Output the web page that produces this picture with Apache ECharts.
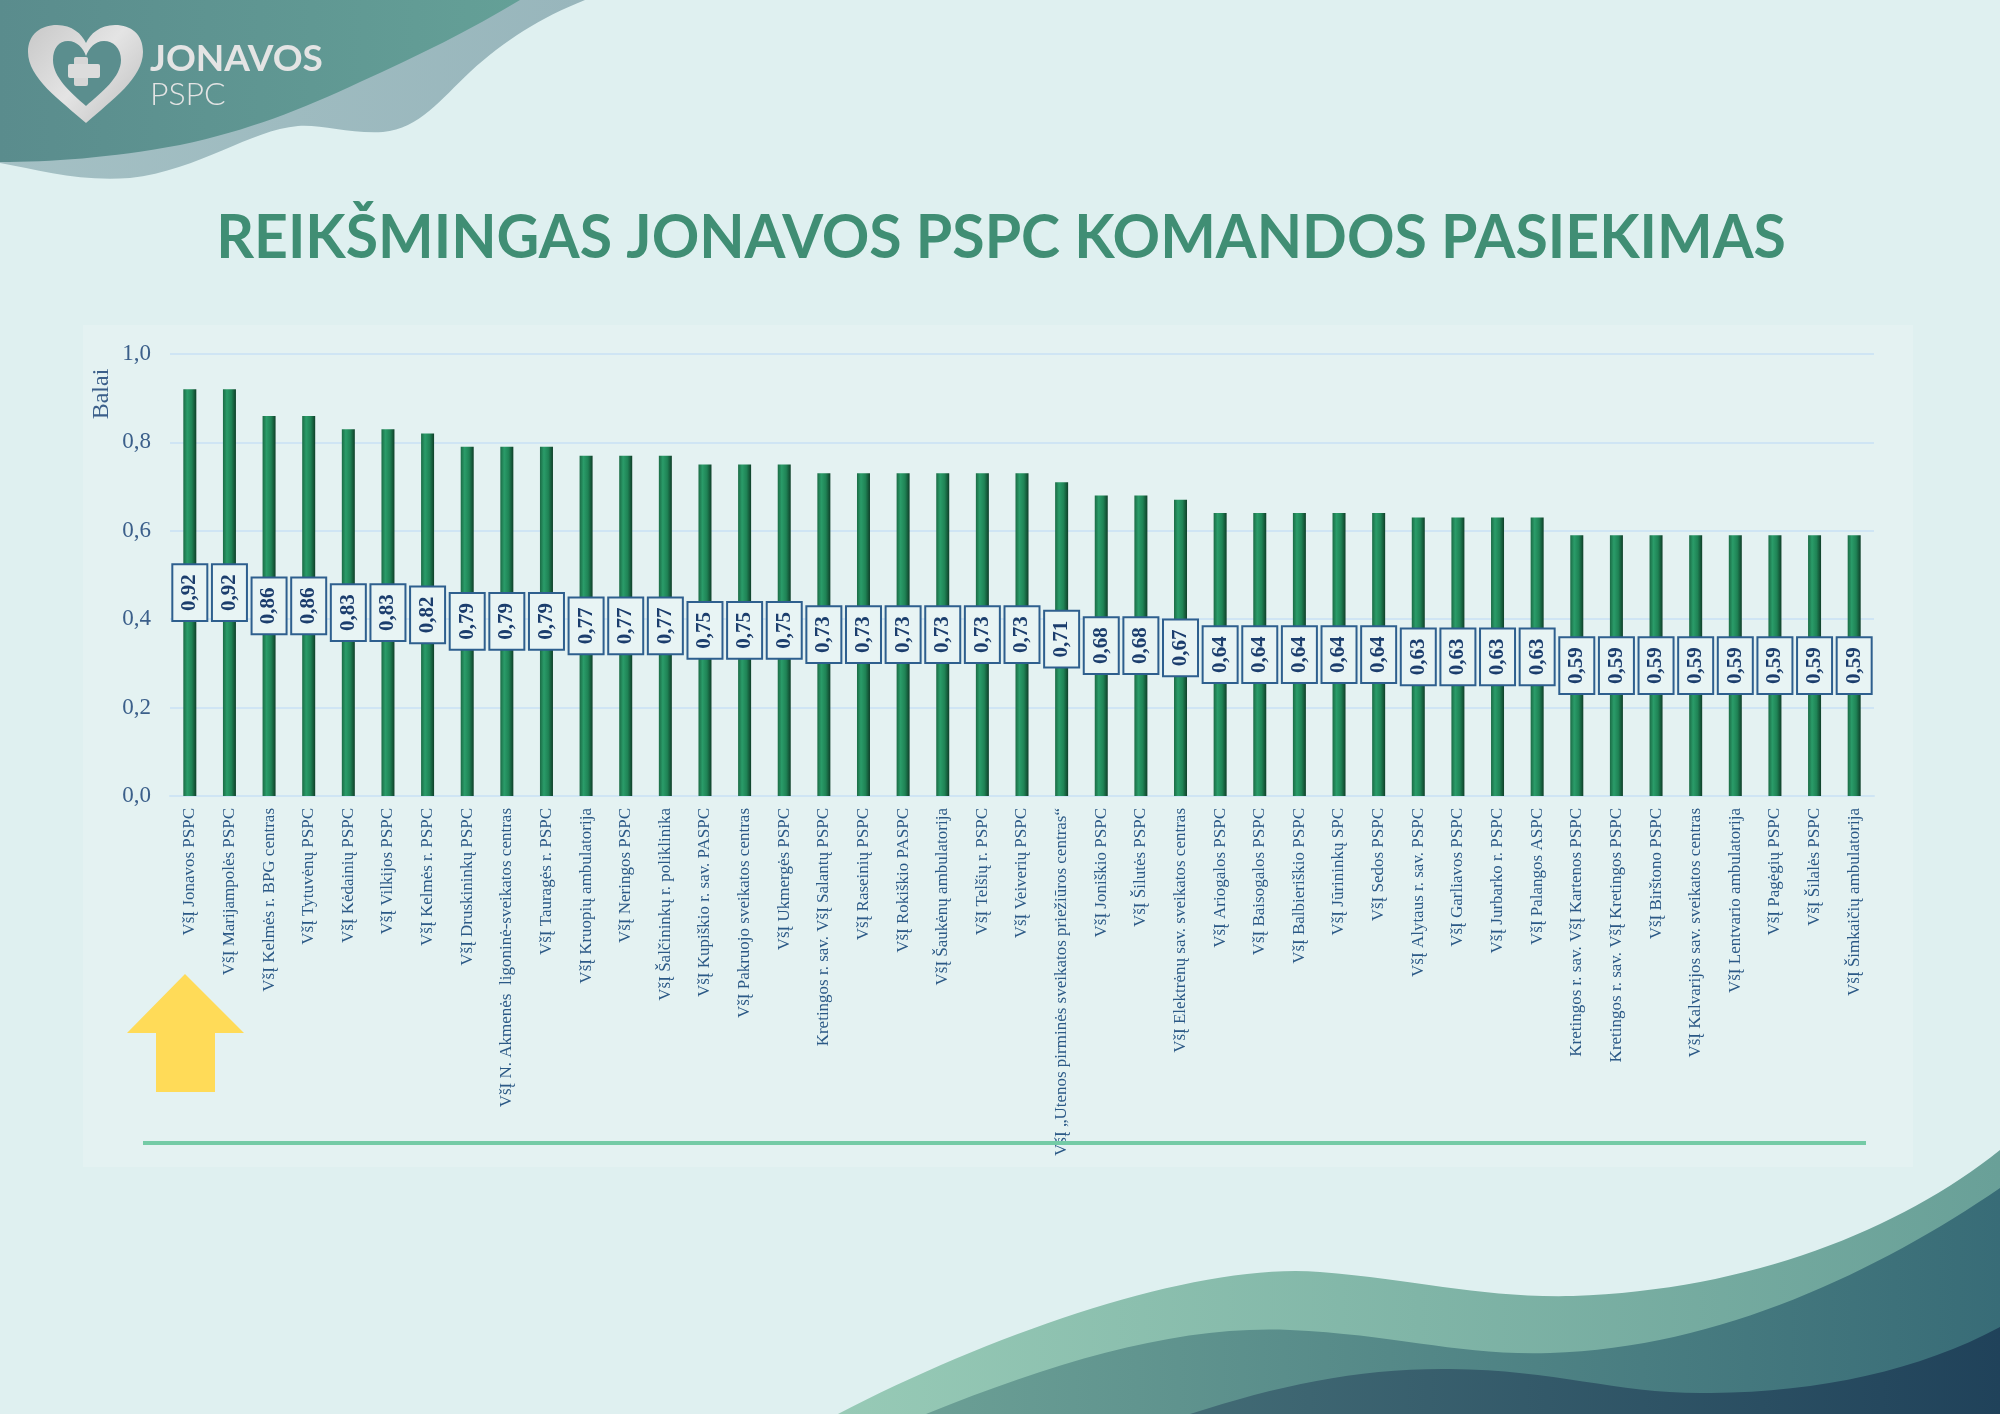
<!DOCTYPE html>
<html>
<head>
<meta charset="utf-8">
<title>Jonavos PSPC</title>
<script src="https://cdn.jsdelivr.net/npm/echarts@6/dist/echarts.min.js"></script>
<style>
  html, body { margin: 0; padding: 0; background: #dff0f0; }
  #main { width: 2000px; height: 1414px; }
</style>
</head>
<body>
<div id="main"></div>
<script>
// istaigos (kategorijos) ir ju balai
var categories = [
    'VšĮ Jonavos PSPC',
    'VšĮ Marijampolės PSPC',
    'VšĮ Kelmės r. BPG centras',
    'VšĮ Tytuvėnų PSPC',
    'VšĮ Kėdainių PSPC',
    'VšĮ Vilkijos PSPC',
    'VšĮ Kelmės r. PSPC',
    'VšĮ Druskininkų PSPC',
    'VšĮ N. Akmenės  ligoninė-sveikatos centras',
    'VšĮ Tauragės r. PSPC',
    'VšĮ Kruopių ambulatorija',
    'VšĮ Neringos PSPC',
    'VšĮ Šalčininkų r. poliklinika',
    'VšĮ Kupiškio r. sav. PASPC',
    'VšĮ Pakruojo sveikatos centras',
    'VšĮ Ukmergės PSPC',
    'Kretingos r. sav. VšĮ Salantų PSPC',
    'VšĮ Raseinių PSPC',
    'VšĮ Rokiškio PASPC',
    'VšĮ Šaukėnų ambulatorija',
    'VšĮ Telšių r. PSPC',
    'VšĮ Veiverių PSPC',
    'VšĮ „Utenos pirminės sveikatos priežiūros centras“',
    'VšĮ Joniškio PSPC',
    'VšĮ Šilutės PSPC',
    'VšĮ Elektrėnų sav. sveikatos centras',
    'VšĮ Ariogalos PSPC',
    'VšĮ Baisogalos PSPC',
    'VšĮ Balbieriškio PSPC',
    'VšĮ Jūrininkų SPC',
    'VšĮ Sedos PSPC',
    'VšĮ Alytaus r. sav. PSPC',
    'VšĮ Garliavos PSPC',
    'VšĮ Jurbarko r. PSPC',
    'VšĮ Palangos ASPC',
    'Kretingos r. sav. VšĮ Kartenos PSPC',
    'Kretingos r. sav. VšĮ Kretingos PSPC',
    'VšĮ Birštono PSPC',
    'VšĮ Kalvarijos sav. sveikatos centras',
    'VšĮ Lentvario ambulatorija',
    'VšĮ Pagėgių PSPC',
    'VšĮ Šilalės PSPC',
    'VšĮ Šimkaičių ambulatorija'
];

var scores = [
    0.92, 0.92, 0.86, 0.86, 0.83, 0.83, 0.82, 0.79, 0.79, 0.79,
    0.77, 0.77, 0.77, 0.75, 0.75, 0.75, 0.73, 0.73, 0.73, 0.73,
    0.73, 0.73, 0.71, 0.68, 0.68, 0.67, 0.64, 0.64, 0.64, 0.64,
    0.64, 0.63, 0.63, 0.63, 0.63, 0.59, 0.59, 0.59, 0.59, 0.59,
    0.59, 0.59, 0.59
];

var yTicks = ['0,0', '0,2', '0,4', '0,6', '0,8', '1,0'];

var titleText = 'REIKŠMINGAS JONAVOS PSPC KOMANDOS PASIEKIMAS';
var yName = 'Balai';

// dekoraciju formos (svg path)
function regPath(name, d) {
    echarts.graphic.registerShape(name, echarts.graphic.extendPath(d, {}));
}
regPath('waveTopLight', 'M0 0 L585 0 C540 18 505 40 470 72 C440 100 420 128 383 132 ' +
    'C350 134 320 124 298 126 C250 130 200 170 130 178 C80 182 40 170 0 163 Z');
regPath('waveTopDark', 'M0 0 L520 0 C470 30 420 55 360 82 C300 110 250 130 180 145 C110 158 50 162 0 162 Z');
regPath('heartOuter', 'M86 123 C60 100 28 78 28 52 C28 34 41 25 57 25 C72 25 82 34 86 43 ' +
    'C90 34 100 25 115 25 C131 25 143 34 143 52 C143 78 112 100 86 123 Z');
regPath('heartInner', 'M86 106 C70 92 53 77 53 60 C53 48 59 41 68 41 C77 41 83 48 86 56 ' +
    'C89 48 95 41 104 41 C113 41 121 48 121 60 C121 77 102 92 86 106 Z');
regPath('waveBot1', 'M838 1414 C1000 1330 1200 1262 1320 1272 C1420 1280 1480 1298 1573 1296 ' +
    'C1750 1290 1900 1230 2000 1150 L2000 1414 Z');
regPath('waveBot2', 'M926 1414 C1060 1360 1180 1325 1290 1330 C1400 1335 1460 1356 1550 1353 ' +
    'C1720 1348 1880 1270 2000 1188 L2000 1414 Z');
regPath('waveBot3', 'M1190 1414 C1280 1385 1360 1368 1450 1369 C1560 1370 1620 1395 1711 1393 ' +
    'C1820 1392 1920 1370 2000 1327 L2000 1414 Z');

function hGrad(c1, c2) {
    return new echarts.graphic.LinearGradient(0, 0, 1, 0, [
        { offset: 0, color: c1 },
        { offset: 1, color: c2 }
    ]);
}

var myChart = echarts.init(document.getElementById('main'));

var option = {
    backgroundColor: '#dff0f0',
    animation: false,
    grid: {
        left: 170,
        right: 126,
        top: 354,
        bottom: 618,
        containLabel: false
    },
    xAxis: {
        type: 'category',
        data: categories,
        axisLine: { show: true, lineStyle: { color: '#cfe5f4', width: 2 } },
        axisTick: { show: false },
        axisLabel: {
            interval: 0,
            rotate: 90,
            margin: 12,
            fontFamily: 'Liberation Serif',
            fontSize: 17,
            color: '#2b5986'
        }
    },
    yAxis: {
        type: 'value',
        min: 0,
        max: 1,
        interval: 0.2,
        axisLine: { show: false },
        axisTick: { show: false },
        splitLine: { lineStyle: { color: '#cfe5f4', width: 2 } },
        axisLabel: {
            margin: 19,
            fontFamily: 'Liberation Serif',
            fontSize: 23,
            color: '#3b5f8a',
            formatter: function (v) {
                return yTicks[Math.round(v / 0.2)];
            }
        }
    },
    series: [
        {
            name: yName,
            type: 'bar',
            barWidth: 13,
            data: scores,
            z: 3,
            itemStyle: {
                color: new echarts.graphic.LinearGradient(0, 0, 1, 0, [
                    { offset: 0, color: '#1b6b45' },
                    { offset: 0.3, color: '#2a9c69' },
                    { offset: 0.65, color: '#1f8355' },
                    { offset: 1, color: '#0f3f29' }
                ])
            },
            label: {
                show: true,
                position: 'inside',
                rotate: 90,
                fontFamily: 'Liberation Serif',
                fontWeight: 'bold',
                fontSize: 21,
                color: '#1b3d6d',
                backgroundColor: '#e8f4f4',
                borderColor: '#2e5f8e',
                borderWidth: 2,
                padding: [6, 9, 6, 9],
                formatter: function (p) {
                    return p.value.toFixed(2).replace('.', ',');
                }
            }
        }
    ],
    graphic: [
        // sviesesnis diagramos fonas
        {
            type: 'rect', z: -20,
            shape: { x: 83, y: 325, width: 1830, height: 842 },
            style: { fill: '#e4f2f2' }
        },
        // virsutine kaire banga
        { type: 'waveTopLight', z: -10, style: { fill: hGrad('#a4c0c4', '#98b6bc') } },
        { type: 'waveTopDark', z: -9, style: { fill: hGrad('#5a8c8d', '#64a097') } },
        // logotipas
        {
            type: 'heartOuter', z: 5,
            style: {
                fill: new echarts.graphic.LinearGradient(0, 0, 1, 1, [
                    { offset: 0, color: '#c8c8c8' },
                    { offset: 0.5, color: '#e4e4e4' },
                    { offset: 1, color: '#bdbdbd' }
                ])
            }
        },
        { type: 'heartInner', z: 6, style: { fill: '#5b8e8e' } },
        {
            type: 'rect', z: 7,
            shape: { x: 74, y: 57, width: 14, height: 29, r: 2 },
            style: { fill: '#d6d6d6' }
        },
        {
            type: 'rect', z: 7,
            shape: { x: 68, y: 64, width: 32, height: 14, r: 2 },
            style: { fill: '#dcdcdc' }
        },
        {
            type: 'text', z: 7,
            x: 150, y: 59,
            style: {
                text: 'JONAVOS',
                font: 'bold 37px Lato',
                fill: '#e4e4e4',
                verticalAlign: 'middle'
            }
        },
        {
            type: 'text', z: 7,
            x: 150, y: 95,
            style: {
                text: 'PSPC',
                font: '300 32px Lato',
                fill: '#e4e4e4',
                verticalAlign: 'middle'
            }
        },
        // antraste
        {
            type: 'text', z: 7,
            x: 1001, y: 238,
            scaleX: 0.95,
            style: {
                text: titleText,
                font: 'bold 62px Lato',
                fill: '#408e74',
                align: 'center',
                verticalAlign: 'middle'
            }
        },
        // asies pavadinimas
        {
            type: 'text', z: 7,
            x: 102, y: 394,
            rotation: Math.PI / 2,
            style: {
                text: yName,
                font: '24px "Liberation Serif"',
                fill: '#3b5f8a',
                align: 'center',
                verticalAlign: 'middle'
            }
        },
        // geltona rodykle
        {
            type: 'polygon', z: 7,
            shape: {
                points: [[185, 974], [244, 1033], [215, 1033], [215, 1092],
                         [156, 1092], [156, 1033], [127, 1033]]
            },
            style: { fill: '#ffdb58' }
        },
        // zalia linija
        {
            type: 'line', z: 7,
            shape: { x1: 143, y1: 1143, x2: 1866, y2: 1143 },
            style: { stroke: '#74cba6', lineWidth: 4 }
        },
        // apatine desine banga
        { type: 'waveBot1', z: 8, style: { fill: hGrad('#97cab6', '#69a098') } },
        { type: 'waveBot2', z: 9, style: { fill: hGrad('#6b9f95', '#386c77') } },
        { type: 'waveBot3', z: 10, style: { fill: hGrad('#426b75', '#20425a') } }
    ]
};

myChart.setOption(option, true);
</script>
</body>
</html>
